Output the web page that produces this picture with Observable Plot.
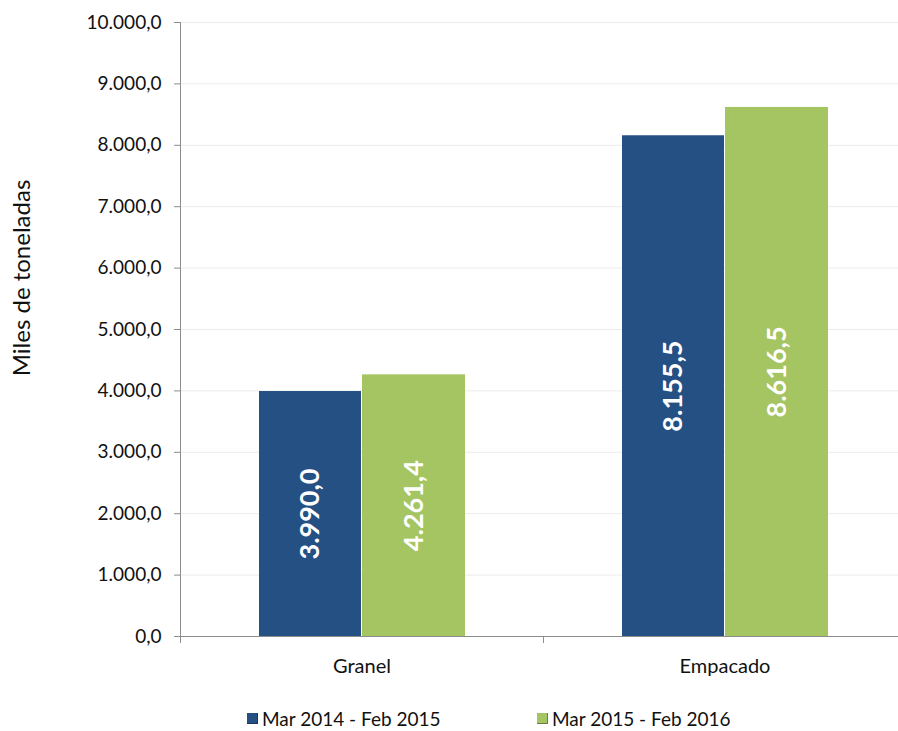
<!DOCTYPE html>
<html>
<head>
<meta charset="utf-8">
<script src="https://cdn.jsdelivr.net/npm/d3@7"></script>
<script src="https://cdn.jsdelivr.net/npm/@observablehq/plot@0.6"></script>
<style>
  html, body { margin: 0; padding: 0; background: #fff; }
  body { width: 898px; height: 731px; overflow: hidden; font-family: Lato, "Open Sans", sans-serif; }
  #legend { height: 31px; font-size: 19px; color: #111; position: relative; }
  .item { position: absolute; display: flex; align-items: center; top: 9px; line-height: 1; }
  .sw { width: 11px; height: 11px; margin-right: 4px; box-shadow: inset -1px -1px 0 rgba(0,0,0,0.35); }
</style>
</head>
<body>
<div id="chart"></div>
<div id="legend"></div>
<script>
const categories = ["Granel", "Empacado"];
const seriesNames = ["Mar 2014 - Feb 2015", "Mar 2015 - Feb 2016"];
const serie2014 = [3990.0, 8155.5];
const serie2015 = [4261.4, 8616.5];
const yTicks = [0, 1000, 2000, 3000, 4000, 5000, 6000, 7000, 8000, 9000, 10000];
const colors = ["#255084", "#a5c462"];

const loc = d3.formatLocale({decimal: ",", thousands: ".", grouping: [3], currency: ["", ""]});
const fmt = loc.format(",.1f");

const rows = [];
categories.forEach((c, i) => {
  rows.push({cat: c, series: seriesNames[0], value: serie2014[i], idx: 0});
  rows.push({cat: c, series: seriesNames[1], value: serie2015[i], idx: 1});
});
const s0 = rows.filter(d => d.idx === 0);
const s1 = rows.filter(d => d.idx === 1);

const W = 898, H = 700;
const plot = Plot.plot({
  width: W,
  height: H,
  marginTop: 22,
  marginBottom: 64,
  marginLeft: 180,
  marginRight: 0,
  style: {fontFamily: "Lato, 'Open Sans', sans-serif", fontSize: "19px", color: "#111", background: "#fff", overflow: "visible"},
  x: {domain: categories, range: [180, 906], padding: 0},
  y: {domain: [0, 10000], ticks: yTicks},
  marks: [
    Plot.ruleY(yTicks.filter(t => t > 0), {stroke: "#ececec", strokeWidth: 1}),
    Plot.barY(s0, {x: "cat", y: "value", fill: colors[0], insetLeft: 79, insetRight: 182,
      style: "filter: drop-shadow(1.5px 1px 1px rgba(0,0,0,0.45))"}),
    Plot.barY(s1, {x: "cat", y: "value", fill: colors[1], insetLeft: 182, insetRight: 78,
      style: "filter: drop-shadow(1.5px 1px 1px rgba(0,0,0,0.45))"}),
    Plot.ruleY([0], {stroke: "#8c8c8c", strokeWidth: 1}),
    Plot.axisY({ticks: yTicks, tickFormat: fmt, tickSize: 6, tickPadding: 13, stroke: "#8c8c8c", label: null, fontSize: 19, fill: "#111"}),
    Plot.axisX({tickSize: 0, tickPadding: 22, label: null, fontSize: 20, fill: "#111"}),
    Plot.text(s0, {x: "cat", y: d => d.value / 2, text: d => fmt(d.value), rotate: -90, dx: -52, fill: "white", fontWeight: "bold", fontSize: 27}),
    Plot.text(s1, {x: "cat", y: d => d.value / 2, text: d => fmt(d.value), rotate: -90, dx: 52, fill: "white", fontWeight: "bold", fontSize: 27})
  ]
});
document.getElementById("chart").appendChild(plot);

// y-axis line and category boundary ticks, derived from the scales
const xs = plot.scale("x");
const ys = plot.scale("y");
const svg = d3.select(plot);
const y0 = ys.apply(0), yTop = ys.apply(10000);
svg.append("line").attr("x1", xs.apply(categories[0]) + 0.5).attr("x2", xs.apply(categories[0]) + 0.5)
  .attr("y1", yTop).attr("y2", y0).attr("stroke", "#8c8c8c");
categories.forEach(c => {
  const bx = Math.round(xs.apply(c)) + 0.5;
  svg.append("line").attr("x1", bx).attr("x2", bx).attr("y1", y0).attr("y2", y0 + 7).attr("stroke", "#8c8c8c");
});
svg.append("text")
  .attr("transform", `translate(30, ${(yTop + y0) / 2 - 51}) rotate(-90)`)
  .attr("text-anchor", "middle")
  .attr("font-size", 24)
  .attr("fill", "#111")
  .text("Miles de toneladas");

// legend
const leg = document.getElementById("legend");
const lefts = [247, 537];
seriesNames.forEach((n, i) => {
  const it = document.createElement("div");
  it.className = "item";
  it.style.left = lefts[i] + "px";
  it.innerHTML = `<span class="sw" style="background:${colors[i]}"></span><span>${n}</span>`;
  leg.appendChild(it);
});
</script>
</body>
</html>
